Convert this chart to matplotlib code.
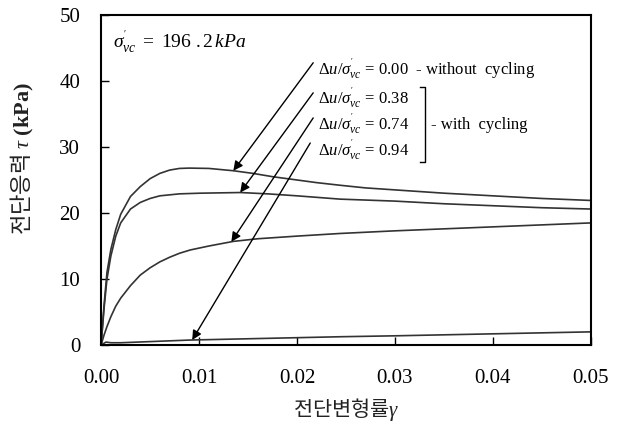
import numpy as np
import matplotlib
matplotlib.use('Agg')
import matplotlib.pyplot as plt

plt.rcParams['font.family'] = ['Liberation Serif', 'Noto Sans CJK KR']
plt.rcParams['mathtext.fontset'] = 'custom'
plt.rcParams['mathtext.rm'] = 'Liberation Serif'
plt.rcParams['mathtext.it'] = 'Liberation Serif:italic'
plt.rcParams['mathtext.bf'] = 'Liberation Serif:bold'

# shear strain (x) and shear stress in kPa for each pore-pressure ratio
strain0 = [0.0, 0.0003, 0.0006, 0.001, 0.0015, 0.002, 0.003, 0.004, 0.005,
           0.006, 0.007, 0.008, 0.009, 0.011, 0.0135, 0.0155, 0.0175, 0.02,
           0.022, 0.0244, 0.027, 0.03, 0.035, 0.04, 0.045, 0.05]
tau0 = [0.0, 6.0, 11.0, 14.5, 17.5, 19.8, 22.5, 24.0, 25.2,
        26.0, 26.5, 26.75, 26.8, 26.75, 26.4, 26.0, 25.5, 25.0,
        24.6, 24.2, 23.8, 23.5, 23.0, 22.6, 22.2, 21.9]

strain38 = [0.0, 0.0003, 0.0006, 0.001, 0.0015, 0.002, 0.003, 0.004, 0.005,
            0.006, 0.008, 0.0101, 0.0142, 0.017, 0.02, 0.0244, 0.03, 0.035,
            0.04, 0.045, 0.05]
tau38 = [0.0, 5.5, 10.0, 13.5, 16.5, 18.5, 20.6, 21.6, 22.2,
         22.6, 22.9, 23.0, 23.1, 22.9, 22.6, 22.1, 21.8, 21.4,
         21.1, 20.8, 20.6]

strain74 = [0.0, 0.0003, 0.0006, 0.001, 0.0015, 0.002, 0.003, 0.004, 0.005,
            0.006, 0.007, 0.008, 0.0091, 0.011, 0.0135, 0.016, 0.02, 0.0244,
            0.03, 0.035, 0.04, 0.045, 0.05]
tau74 = [0.0, 1.5, 2.8, 4.3, 5.9, 7.1, 9.0, 10.6, 11.7,
         12.6, 13.3, 13.9, 14.4, 15.0, 15.7, 16.1, 16.5, 16.9,
         17.3, 17.6, 17.9, 18.2, 18.5]

strain94 = [0.0, 0.0005, 0.001, 0.002, 0.0091, 0.0244, 0.03, 0.04, 0.05]
tau94 = [0.0, 0.45, 0.35, 0.35, 0.76, 1.26, 1.4, 1.7, 2.0]

ratios = ['0.00', '0.38', '0.74', '0.94']
arrow_x = [0.0135, 0.0142, 0.0133, 0.0093]

xticks = [0.0, 0.01, 0.02, 0.03, 0.04, 0.05]
yticks = [0, 10, 20, 30, 40, 50]

fig = plt.figure(figsize=(6.24, 4.26), dpi=100)
ax = fig.add_axes([0.162, 0.19, 0.785, 0.775])

curves = [(strain0, tau0), (strain38, tau38), (strain74, tau74), (strain94, tau94)]
for sx, ty in curves:
    ax.plot(sx, ty, color='#333333', lw=1.2)

ax.set_xlim(0, 0.05)
ax.set_ylim(0, 50)
ax.set_xticks(xticks)
ax.set_xticklabels(['%.2f' % v for v in xticks])
ax.set_yticks(yticks)
ax.tick_params(direction='in', length=6, width=1, labelsize=15)
ax.tick_params(axis='x', pad=17)
ax.tick_params(axis='y', pad=15)
for s in ax.spines.values():
    s.set_linewidth(1.5)

ax.set_xlabel('전단변형률' + r'$\gamma$', fontsize=15, labelpad=6,
              family=['Noto Sans CJK KR'], color='#222222')
ax.set_ylabel('전단응력 ' + r'$\tau$ $\mathbf{(kPa)}$', fontsize=16,
              family=['Noto Sans CJK KR'], color='#222222')
ax.yaxis.set_label_coords(-0.133, 0.565)

ax.text(0.024, 0.918, r"$\sigma^{'}_{vc}\ =\ 196\ .2\,kPa$", transform=ax.transAxes,
        fontsize=14, va='center')

# labels and arrows pointing to each curve
text_y = [0.833, 0.745, 0.667, 0.588]
start_y = [0.855, 0.764, 0.688, 0.612]
for i, (sx, ty) in enumerate(curves):
    suffix = '  - without  cycling' if i == 0 else ''
    ax.text(0.443, text_y[i], r"$\Delta u/\sigma^{'}_{vc}$ = " + ratios[i] + suffix,
            transform=ax.transAxes, fontsize=12, va='center')
    tip = (arrow_x[i], np.interp(arrow_x[i], sx, ty))
    ax.annotate('', xy=tip, xycoords='data',
                xytext=(0.433 - 0.006 * (i == 3), start_y[i]), textcoords='axes fraction',
                arrowprops=dict(arrowstyle='-|>', color='black', lw=1.0,
                                mutation_scale=14, shrinkA=0, shrinkB=0))

# bracket around the cycled cases
bx = [0.652, 0.662, 0.662, 0.652]
by = [0.782, 0.782, 0.555, 0.555]
ax.plot(bx, by, color='black', lw=1.0, transform=ax.transAxes)
ax.text(0.674, 0.667, '- with  cycling', transform=ax.transAxes,
        fontsize=12, va='center')

fig.savefig('out.png', dpi=100)
